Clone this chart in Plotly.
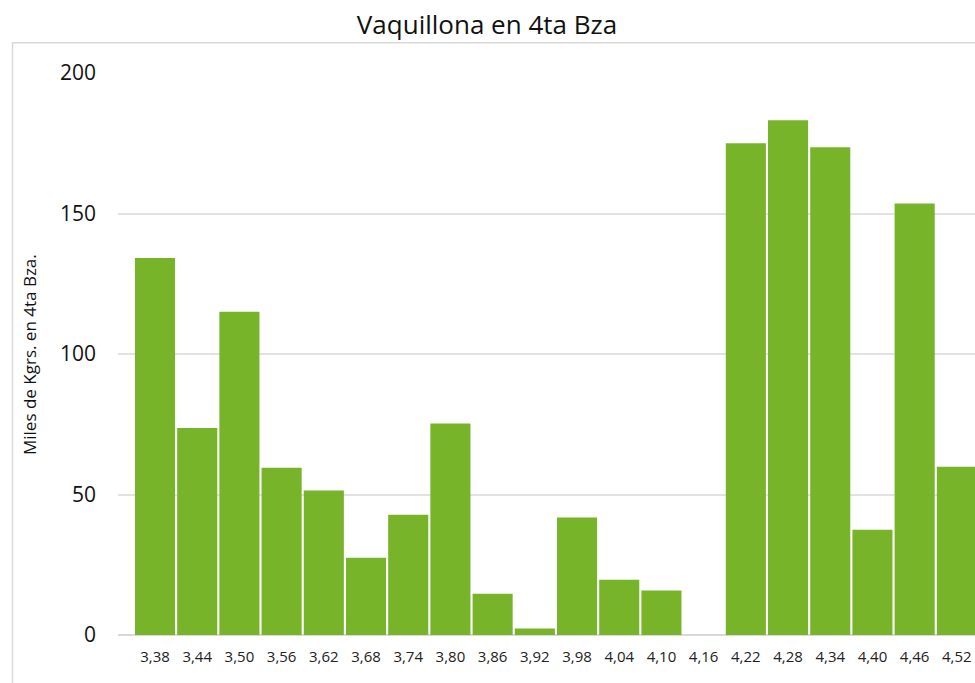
import plotly.graph_objects as go

categories = ["3,38", "3,44", "3,50", "3,56", "3,62", "3,68", "3,74", "3,80", "3,86", "3,92",
              "3,98", "4,04", "4,10", "4,16", "4,22", "4,28", "4,34", "4,40", "4,46", "4,52"]
values = [134.2, 73.7, 115.0, 59.5, 51.4, 27.5, 42.8, 75.3, 14.7, 2.3,
          41.8, 19.7, 15.8, 0, 175.0, 183.2, 173.6, 37.5, 153.6, 59.9]
y_ticks = [0, 50, 100, 150, 200]

title_text = "Vaquillona en 4ta Bza"
y_title = "Miles de Kgrs. en 4ta Bza."

FONT = "Open Sans"
BAR_COLOR = "#78B42A"
GRID = "#E2E2E2"

fig = go.Figure(go.Bar(
    x=categories, y=values,
    marker=dict(color=BAR_COLOR, line=dict(width=0)),
))

W, H = 975, 683
ML, MR, MT, MB = 118, 0, 73, 48

fig.update_layout(
    width=W, height=H,
    margin=dict(l=ML, r=MR, t=MT, b=MB),
    paper_bgcolor="white", plot_bgcolor="white",
    bargap=0.05,
    showlegend=False,
    font=dict(family=FONT, color="#222222"),
    title=dict(text=title_text, xref="container", x=487 / W, y=1 - 25 / H, yanchor="middle",
               xanchor="center", font=dict(size=26, family=FONT, color="#111111")),
)

fig.update_xaxes(
    type="category",
    range=[-0.877, 19.43],
    showgrid=False, showline=False, zeroline=False,
    ticks="", tickfont=dict(size=15, family=FONT, color="#222222"),
    ticklabelstandoff=11,
)
fig.update_yaxes(
    range=[0, 200],
    tickvals=y_ticks,
    showgrid=True, gridcolor=GRID, gridwidth=1.8,
    zeroline=True, zerolinecolor="#D9D9D9", zerolinewidth=2,
    showline=False, ticks="",
    tickfont=dict(size=21, family=FONT, color="#111111"),
    ticklabelstandoff=21,
)

plot_w = W - ML - MR
plot_h = H - MT - MB

fig.add_annotation(
    text=y_title, textangle=-90,
    xref="paper", yref="paper",
    x=(29 - ML) / plot_w, y=(H - MB - 355) / plot_h,
    xanchor="center", yanchor="middle", showarrow=False,
    font=dict(size=17, family=FONT, color="#111111"),
)

# outer chart frame (cropped on right/bottom)
fig.add_shape(
    type="rect", xref="paper", yref="paper",
    x0=(12.5 - ML) / plot_w, x1=1.2,
    y0=-0.3, y1=1 + (MT - 42.7) / plot_h,
    line=dict(color="#D9D9D9", width=1.5), fillcolor="rgba(0,0,0,0)",
    layer="below",
)

fig.write_html(
    "out.html",
    config={"displayModeBar": False},
    post_script="document.body.style.margin='0';document.body.style.overflow='hidden';",
)
